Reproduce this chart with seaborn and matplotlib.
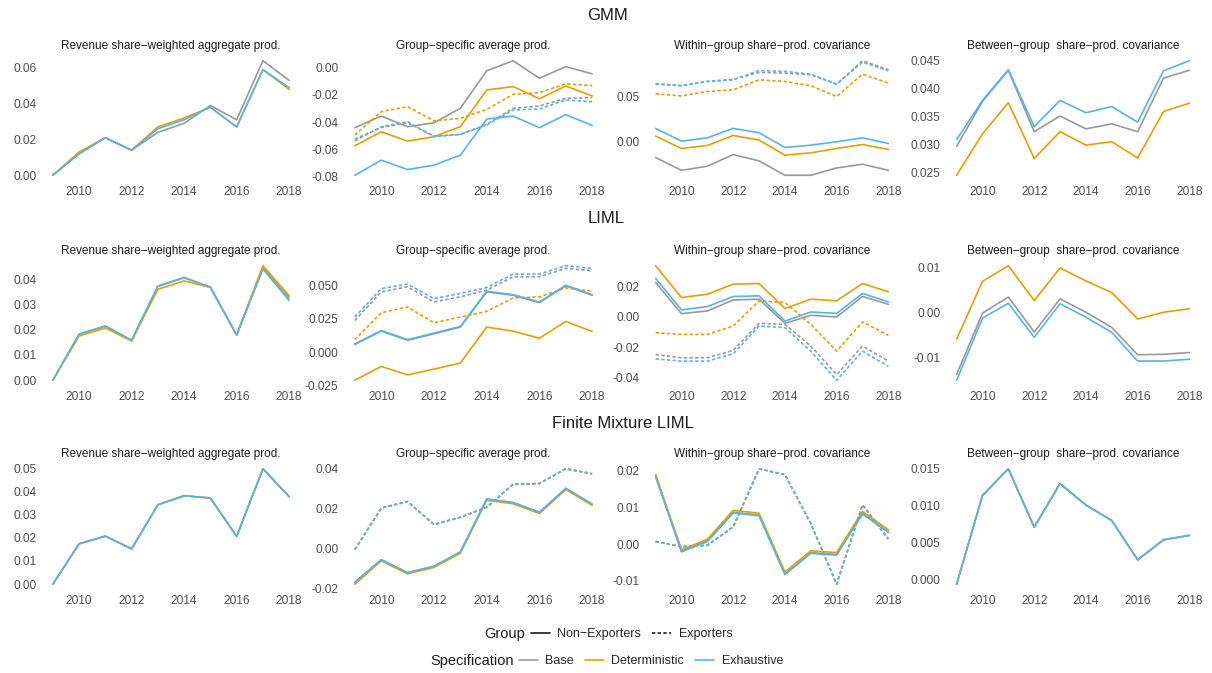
import matplotlib
matplotlib.use("Agg")
import matplotlib.pyplot as plt
from matplotlib.lines import Line2D
from matplotlib.ticker import FormatStrFormatter
import seaborn as sns
import pandas as pd

# ---- data ----
years = list(range(2009, 2019))
specs = ["Base", "Deterministic", "Exhaustive"]
groups = ["Non−Exporters", "Exporters"]
NE, EX = groups

gmm_agg = {
    "Base":          [0.0, 0.012, 0.021, 0.014, 0.024, 0.029, 0.039, 0.031, 0.064, 0.053],
    "Deterministic": [0.0, 0.013, 0.021, 0.014, 0.027, 0.032, 0.038, 0.027, 0.059, 0.048],
    "Exhaustive":    [0.0, 0.012, 0.021, 0.014, 0.026, 0.031, 0.038, 0.027, 0.059, 0.049],
}
gmm_group = {
    ("Base", NE):          [-0.044, -0.0355, -0.0433, -0.0404, -0.0298, -0.0024, 0.005, -0.0078, 0.0007, -0.0046],
    ("Deterministic", NE): [-0.0572, -0.047, -0.0538, -0.0506, -0.0433, -0.0164, -0.0139, -0.0228, -0.0135, -0.0208],
    ("Exhaustive", NE):    [-0.0788, -0.0678, -0.0746, -0.0714, -0.0641, -0.0377, -0.0355, -0.044, -0.0345, -0.0423],
    ("Base", EX):          [-0.0523, -0.0438, -0.0404, -0.0501, -0.0489, -0.0416, -0.0298, -0.0281, -0.0225, -0.022],
    ("Deterministic", EX): [-0.0494, -0.0323, -0.0286, -0.039, -0.0372, -0.0306, -0.0196, -0.0183, -0.012, -0.0132],
    ("Exhaustive", EX):    [-0.0536, -0.0433, -0.0396, -0.0506, -0.0489, -0.042, -0.031, -0.0303, -0.0237, -0.025],
}
gmm_within = {
    ("Base", NE):          [-0.0174, -0.0315, -0.027, -0.0141, -0.0211, -0.037, -0.037, -0.0289, -0.0248, -0.0315],
    ("Deterministic", NE): [0.0063, -0.0074, -0.0041, 0.007, 0.0019, -0.0148, -0.0122, -0.0074, -0.003, -0.0085],
    ("Exhaustive", NE):    [0.0148, 0.0007, 0.0044, 0.0148, 0.01, -0.0063, -0.0037, 0.0, 0.0044, -0.0019],
    ("Base", EX):          [0.0637, 0.062, 0.0667, 0.069, 0.0767, 0.0759, 0.0741, 0.0637, 0.0896, 0.0796],
    ("Deterministic", EX): [0.053, 0.0507, 0.0556, 0.0574, 0.0685, 0.0667, 0.0619, 0.05, 0.0748, 0.0648],
    ("Exhaustive", EX):    [0.0641, 0.0622, 0.0667, 0.0685, 0.0789, 0.0778, 0.0748, 0.0637, 0.0881, 0.0785],
}
gmm_between = {
    "Base":          [0.0297, 0.0377, 0.0433, 0.0323, 0.0351, 0.0328, 0.0337, 0.0323, 0.0419, 0.0433],
    "Deterministic": [0.0245, 0.0319, 0.0375, 0.0275, 0.0323, 0.0299, 0.0305, 0.0276, 0.0359, 0.0374],
    "Exhaustive":    [0.0309, 0.0379, 0.0434, 0.0332, 0.0379, 0.0357, 0.0368, 0.034, 0.0432, 0.045],
}

liml_agg = {
    "Base":          [0.0, 0.0182, 0.0214, 0.0158, 0.0371, 0.0405, 0.0368, 0.0179, 0.0445, 0.0325],
    "Deterministic": [0.0, 0.0175, 0.0207, 0.0155, 0.036, 0.0393, 0.0367, 0.0179, 0.0453, 0.0334],
    "Exhaustive":    [0.0, 0.0183, 0.0215, 0.0159, 0.0373, 0.0407, 0.0368, 0.0179, 0.044, 0.0315],
}
liml_group = {
    ("Base", NE):          [0.0058, 0.0158, 0.009, 0.0138, 0.0188, 0.045, 0.0425, 0.037, 0.0495, 0.0425],
    ("Deterministic", NE): [-0.0208, -0.0105, -0.0168, -0.0125, -0.008, 0.0188, 0.0158, 0.0105, 0.023, 0.0155],
    ("Exhaustive", NE):    [0.0063, 0.0163, 0.0095, 0.0143, 0.0193, 0.0455, 0.043, 0.0375, 0.05, 0.043],
    ("Base", EX):          [0.0238, 0.045, 0.0488, 0.0375, 0.0413, 0.0463, 0.0563, 0.0563, 0.0625, 0.0608],
    ("Deterministic", EX): [0.0095, 0.0295, 0.0338, 0.022, 0.0263, 0.0305, 0.0405, 0.0413, 0.048, 0.0455],
    ("Exhaustive", EX):    [0.0263, 0.0475, 0.0508, 0.04, 0.0438, 0.0483, 0.0583, 0.0583, 0.0645, 0.0625],
}
liml_within = {
    ("Base", NE):          [0.0229, 0.0022, 0.004, 0.0113, 0.0118, -0.0042, 0.0011, 0.0, 0.0136, 0.0084],
    ("Deterministic", NE): [0.034, 0.0129, 0.0151, 0.0218, 0.0222, 0.0056, 0.0118, 0.0107, 0.0222, 0.0167],
    ("Exhaustive", NE):    [0.0256, 0.0047, 0.0069, 0.0136, 0.014, -0.0027, 0.0033, 0.0024, 0.0156, 0.01],
    ("Base", EX):          [-0.0249, -0.0271, -0.0271, -0.0222, -0.0042, -0.0049, -0.0193, -0.0382, -0.0193, -0.0293],
    ("Deterministic", EX): [-0.0104, -0.0116, -0.0116, -0.006, 0.0107, 0.0096, -0.0049, -0.0227, -0.0033, -0.0122],
    ("Exhaustive", EX):    [-0.0278, -0.0293, -0.0293, -0.0244, -0.006, -0.0071, -0.0227, -0.042, -0.0227, -0.0327],
}
liml_between = {
    "Base":          [-0.0139, -0.0002, 0.0034, -0.0044, 0.003, 0.0, -0.0034, -0.0095, -0.0094, -0.009],
    "Deterministic": [-0.006, 0.0069, 0.0104, 0.0026, 0.0099, 0.007, 0.0044, -0.0015, 0.0, 0.0008],
    "Exhaustive":    [-0.0152, -0.0013, 0.002, -0.0056, 0.0019, -0.0011, -0.0045, -0.0109, -0.0109, -0.0105],
}

fm_agg = {
    "Base":          [0.0, 0.0174, 0.0207, 0.0152, 0.0342, 0.0381, 0.0371, 0.0206, 0.0497, 0.0377],
    "Deterministic": [0.0, 0.0174, 0.0207, 0.0152, 0.0342, 0.0381, 0.0371, 0.0206, 0.0497, 0.0377],
    "Exhaustive":    [0.0, 0.0174, 0.0207, 0.0152, 0.0342, 0.0381, 0.0371, 0.0206, 0.0497, 0.0377],
}
fm_group = {
    ("Base", NE):          [-0.0168, -0.0055, -0.012, -0.0088, -0.0017, 0.0248, 0.0231, 0.0182, 0.0302, 0.0223],
    ("Deterministic", NE): [-0.0178, -0.0061, -0.0126, -0.0094, -0.0023, 0.0242, 0.0225, 0.0176, 0.0296, 0.0217],
    ("Exhaustive", NE):    [-0.0168, -0.0055, -0.012, -0.0088, -0.0017, 0.0248, 0.0231, 0.0182, 0.0302, 0.0223],
    ("Base", EX):          [-0.0005, 0.0203, 0.0236, 0.0121, 0.0157, 0.0207, 0.0322, 0.0326, 0.04, 0.0375],
    ("Deterministic", EX): [-0.0005, 0.0203, 0.0236, 0.0121, 0.0157, 0.0207, 0.0322, 0.0326, 0.04, 0.0375],
    ("Exhaustive", EX):    [-0.0005, 0.0203, 0.0236, 0.0121, 0.0157, 0.0207, 0.0322, 0.0326, 0.04, 0.0375],
}
fm_within = {
    ("Base", NE):          [0.0186, -0.0019, 0.0009, 0.0087, 0.0079, -0.0081, -0.0023, -0.0028, 0.0084, 0.0034],
    ("Deterministic", NE): [0.0189, -0.0015, 0.0013, 0.0092, 0.0084, -0.0076, -0.0018, -0.0023, 0.0089, 0.0039],
    ("Exhaustive", NE):    [0.0183, -0.0021, 0.0007, 0.0085, 0.0077, -0.0083, -0.0025, -0.003, 0.0082, 0.0032],
    ("Base", EX):          [0.0007, -0.0007, -0.0003, 0.0047, 0.0205, 0.0189, 0.0056, -0.0109, 0.0107, 0.0014],
    ("Deterministic", EX): [0.0007, -0.0007, -0.0003, 0.0047, 0.0205, 0.0189, 0.0056, -0.0109, 0.0107, 0.0014],
    ("Exhaustive", EX):    [0.0007, -0.0007, -0.0003, 0.0047, 0.0205, 0.0189, 0.0056, -0.0109, 0.0107, 0.0014],
}
fm_between = {
    "Base":          [-0.0006, 0.0114, 0.015, 0.0071, 0.013, 0.0101, 0.008, 0.0027, 0.0054, 0.006],
    "Deterministic": [-0.0006, 0.0114, 0.015, 0.0071, 0.013, 0.0101, 0.008, 0.0027, 0.0054, 0.006],
    "Exhaustive":    [-0.0006, 0.0114, 0.015, 0.0071, 0.013, 0.0101, 0.008, 0.0027, 0.0054, 0.006],
}

panel_titles = ["Revenue share−weighted aggregate prod.", "Group−specific average prod.",
                "Within−group share−prod. covariance", "Between−group  share−prod. covariance"]
row_titles = ["GMM", "LIML", "Finite Mixture LIML"]
x_ticks = [2010, 2012, 2014, 2016, 2018]

rows = [
    [gmm_agg, gmm_group, gmm_within, gmm_between],
    [liml_agg, liml_group, liml_within, liml_between],
    [fm_agg, fm_group, fm_within, fm_between],
]
y_ticks = [
    [[0, 0.02, 0.04, 0.06], [-0.08, -0.06, -0.04, -0.02, 0.0], [0.0, 0.05], [0.025, 0.03, 0.035, 0.04, 0.045]],
    [[0, 0.01, 0.02, 0.03, 0.04], [-0.025, 0.0, 0.025, 0.05], [-0.04, -0.02, 0.0, 0.02], [-0.01, 0.0, 0.01]],
    [[0, 0.01, 0.02, 0.03, 0.04, 0.05], [-0.02, 0.0, 0.02, 0.04], [-0.01, 0.0, 0.01, 0.02], [0.0, 0.005, 0.01, 0.015]],
]
y_fmt = [
    ["%.2f", "%.2f", "%.2f", "%.3f"],
    ["%.2f", "%.3f", "%.2f", "%.2f"],
    ["%.2f", "%.2f", "%.2f", "%.3f"],
]

palette = {"Base": "#999999", "Deterministic": "#E69F00", "Exhaustive": "#56B4E9"}
dash_map = {NE: "", EX: (2, 1.4)}


def to_frame(series):
    recs = []
    for key, vals in series.items():
        spec, grp = key if isinstance(key, tuple) else (key, NE)
        for yr, v in zip(years, vals):
            recs.append({"Year": yr, "Value": v, "Specification": spec, "Group": grp})
    return pd.DataFrame(recs)


sns.set_theme(style="white")
plt.rcParams["font.family"] = ["Liberation Sans", "DejaVu Sans"]

W, H = 1212, 673
fig = plt.figure(figsize=(W / 100, H / 100), dpi=100)

col_left = [41, 343, 644, 945]
col_right = [301, 604, 900, 1201]
row_top = [55, 260, 463]
row_bottom = [181, 386, 590]
row_title_x = [607, 606, 623]
row_title_y = [16, 219, 423]

for r in range(3):
    fig.text(row_title_x[r] / W, 1 - row_title_y[r] / H, row_titles[r],
             ha="center", va="center", fontsize=12, color="#1A1A1A")
    for c in range(4):
        x0, x1 = col_left[c], col_right[c]
        y0, y1 = row_top[r], row_bottom[r]
        ax = fig.add_axes([x0 / W, 1 - y1 / H, (x1 - x0) / W, (y1 - y0) / H])
        df = to_frame(rows[r][c])
        sns.lineplot(data=df, x="Year", y="Value", hue="Specification", style="Group",
                     hue_order=specs, style_order=groups, palette=palette,
                     dashes=dash_map, linewidth=1.2, legend=False, ax=ax)
        ax.set_title(panel_titles[c], fontsize=8.5, color="#1A1A1A", pad=4)
        ax.set_xlabel("")
        ax.set_ylabel("")
        ax.set_xticks(x_ticks)
        ax.set_yticks(y_ticks[r][c])
        ax.yaxis.set_major_formatter(FormatStrFormatter(y_fmt[r][c]))
        ax.margins(x=0.05, y=0.05)
        ax.tick_params(length=0, labelsize=8.6, labelcolor="#4D4D4D", pad=3.5)
        for s in ax.spines.values():
            s.set_visible(False)
        ax.grid(False)

# legends
leg_kw = dict(frameon=False, fontsize=9, handlelength=1.5, handletextpad=0.6,
              columnspacing=0.9, borderpad=0, borderaxespad=0, loc="center left")
fig.text(484 / W, 1 - 634 / H, "Group", ha="left", va="center", fontsize=10.5, color="#1A1A1A")
g_handles = [Line2D([], [], color="#1A1A1A", lw=1.2),
             Line2D([], [], color="#1A1A1A", lw=1.2, dashes=(2, 1.4))]
fig.legend(g_handles, groups, ncol=2, bbox_to_anchor=(531 / W, 1 - 634 / H), **leg_kw)

fig.text(430 / W, 1 - 661 / H, "Specification", ha="left", va="center", fontsize=10.5, color="#1A1A1A")
s_handles = [Line2D([], [], color=palette[s], lw=1.2) for s in specs]
fig.legend(s_handles, specs, ncol=3, bbox_to_anchor=(519 / W, 1 - 661 / H), **leg_kw)

fig.savefig("out.png", dpi=100)
